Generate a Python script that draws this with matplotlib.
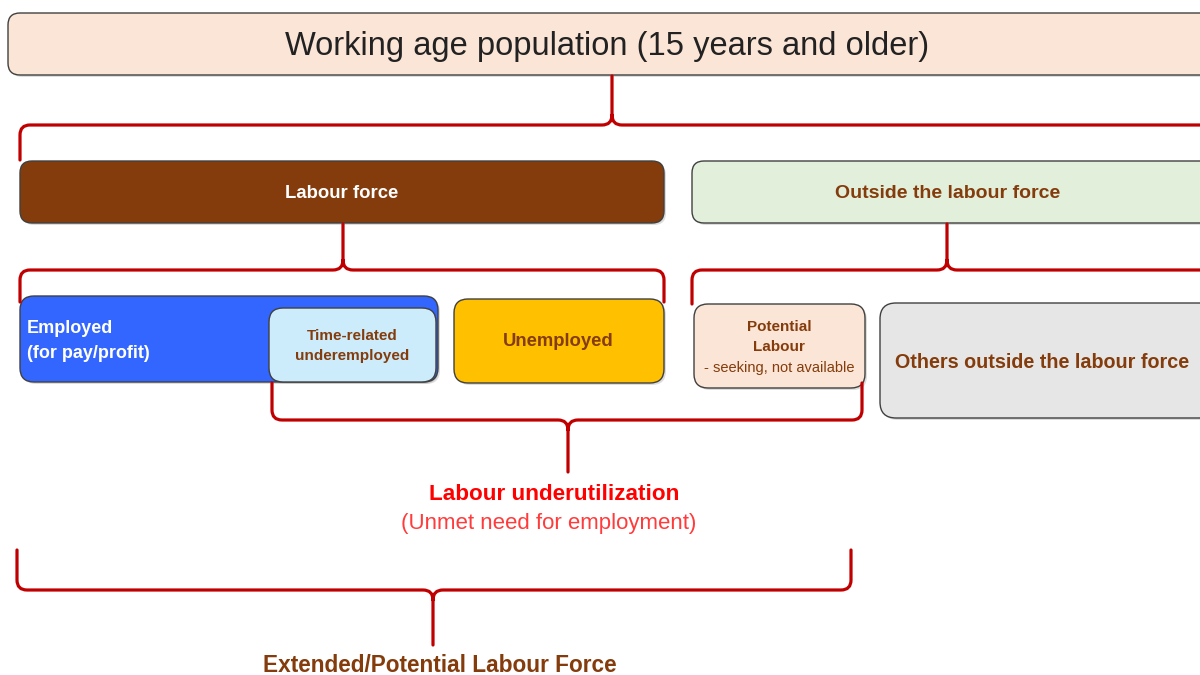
import numpy as np
import matplotlib
matplotlib.use("Agg")
import matplotlib.pyplot as plt
from matplotlib.patches import FancyBboxPatch, PathPatch
from matplotlib.path import Path

plt.rcParams['font.family'] = ['Liberation Sans', 'DejaVu Sans']

# labels of the diagram
box_labels = ["Working age population (15 years and older)",
              "Labour force",
              "Outside the labour force",
              "Employed\n(for pay/profit)",
              "Time-related\nunderemployed",
              "Unemployed",
              "Potential\nLabour",
              "Others outside the labour force"]
under_title = "Labour underutilization"
under_sub = "(Unmet need for employment)"
extended_title = "Extended/Potential Labour Force"
potential_note = "- seeking, not available"

BROWN = "#843C0C"
RED = "#C00000"


def box(ax, x0, y0, x1, y1, fc, r=12, lw=1.0):
    # soft shadow, then the box itself
    sh = FancyBboxPatch((x0 + 2, y0 + 2), x1 - x0, y1 - y0,
                        boxstyle=f"round,pad=0,rounding_size={r}",
                        fc="#bdbdbd", ec="none", alpha=0.5, zorder=1)
    ax.add_patch(sh)
    p = FancyBboxPatch((x0, y0), x1 - x0, y1 - y0,
                       boxstyle=f"round,pad=0,rounding_size={r}",
                       fc=fc, ec="#404040", lw=lw, zorder=2)
    ax.add_patch(p)


def brace(ax, x0, x1, y_line, y_end, xtip, y_tip, r=10):
    """Curly brace: horizontal bar at y_line, ends bent to y_end, tip to y_tip."""
    s = np.sign(y_end - y_line)
    t = np.sign(y_tip - y_line)
    verts = [(x0, y_end), (x0, y_line + s * r), (x0, y_line), (x0 + r, y_line),
             (xtip - r, y_line), (xtip, y_line), (xtip, y_line + t * r), (xtip, y_tip),
             (x1, y_end), (x1, y_line + s * r), (x1, y_line), (x1 - r, y_line),
             (xtip + r, y_line), (xtip, y_line), (xtip, y_line + t * r)]
    codes = [Path.MOVETO, Path.LINETO, Path.CURVE3, Path.CURVE3,
             Path.LINETO, Path.CURVE3, Path.CURVE3, Path.LINETO,
             Path.MOVETO, Path.LINETO, Path.CURVE3, Path.CURVE3,
             Path.LINETO, Path.CURVE3, Path.CURVE3]
    ax.add_patch(PathPatch(Path(verts, codes), fc="none", ec=RED, lw=2.3,
                           capstyle="round", joinstyle="round", zorder=3))


fig = plt.figure(figsize=(12, 6.75), dpi=100)
ax = fig.add_axes([0, 0, 1, 1])
ax.set_xlim(0, 1200)
ax.set_ylim(675, 0)
ax.axis("off")

# boxes
box(ax, 8, 13, 1215, 75, "#FBE5D6")
box(ax, 20, 161, 664, 223, BROWN)
box(ax, 692, 161, 1215, 223, "#E2EFDA")
box(ax, 20, 296, 438, 382, "#3366FF", r=14)
box(ax, 269, 308, 436, 382, "#CCEBFB", r=14)
box(ax, 454, 299, 664, 383, "#FFC000", r=14)
box(ax, 694, 304, 865, 388, "#FBE5D6", r=14)
box(ax, 880, 303, 1215, 418, "#E6E6E6", r=16)

# braces
brace(ax, 20, 1215, 125, 160, 612, 76)
brace(ax, 20, 664, 270, 302, 343, 224)
brace(ax, 692, 1215, 270, 304, 947, 224)
brace(ax, 272, 862, 420, 383, 568, 472)
brace(ax, 17, 851, 590, 550, 433, 645)

# texts
ax.text(607, 46, box_labels[0], fontsize=23.5, color="#222222",
        ha="center", va="center", zorder=5)
ax.text(342, 193, box_labels[1], fontsize=13.3, fontweight="bold",
        color="white", ha="center", va="center", zorder=5)
ax.text(948, 193, box_labels[2], fontsize=14, fontweight="bold",
        color=BROWN, ha="center", va="center", zorder=5)
ax.text(27, 341, box_labels[3], fontsize=13, fontweight="bold",
        color="white", ha="left", va="center", linespacing=1.55, zorder=5)
ax.text(352, 346, box_labels[4], fontsize=11, fontweight="bold",
        color=BROWN, ha="center", va="center", linespacing=1.5, zorder=5)
ax.text(558, 342, box_labels[5], fontsize=13.3, fontweight="bold",
        color=BROWN, ha="center", va="center", zorder=5)
ax.text(779, 337, box_labels[6], fontsize=11, fontweight="bold",
        color=BROWN, ha="center", va="center", linespacing=1.55, zorder=5)
ax.text(779, 368, potential_note, fontsize=10.5, color=BROWN,
        ha="center", va="center", zorder=5)
ax.text(1042, 362, box_labels[7], fontsize=14.2, fontweight="bold",
        color=BROWN, ha="center", va="center", zorder=5)

ax.text(554, 495, under_title, fontsize=16.2, fontweight="bold",
        color="#FF0000", ha="center", va="center", zorder=5)
ax.text(549, 523, under_sub, fontsize=16, color="#FF3B3B",
        ha="center", va="center", zorder=5)
ax.text(440, 665, extended_title, fontsize=16.3, fontweight="bold",
        color=BROWN, ha="center", va="center", zorder=5)

fig.savefig("out.png", dpi=100)
